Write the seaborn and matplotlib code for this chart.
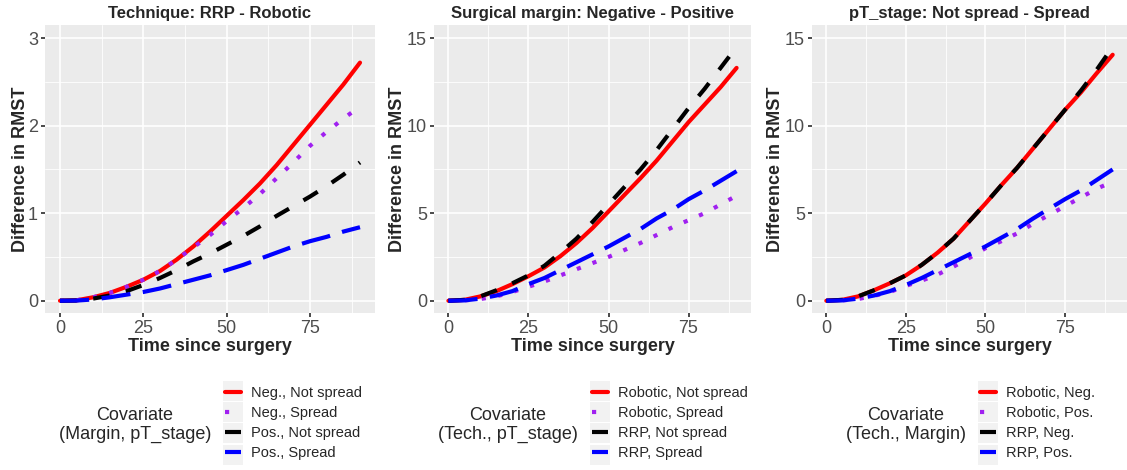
import matplotlib
matplotlib.use("Agg")
import matplotlib.pyplot as plt
import seaborn as sns
import pandas as pd
from matplotlib.patches import Rectangle
from matplotlib.ticker import MultipleLocator

# ---------------------------------------------------------------- #
# Data (difference in RMST vs time)
# ---------------------------------------------------------------- #
time = [0, 5, 10, 15, 20, 25, 30, 35, 40, 45, 50, 55, 60, 65, 70, 75, 80, 85, 90]

# Panel 1: Technique RRP - Robotic, by (Margin, pT_stage)
tech_labels = ["Neg., Not spread", "Neg., Spread", "Pos., Not spread", "Pos., Spread"]
tech_neg_notspread = [0, 0.005, 0.04, 0.09, 0.16, 0.24, 0.34, 0.47, 0.62, 0.79, 0.97,
                      1.15, 1.34, 1.55, 1.78, 2.01, 2.24, 2.47, 2.72]
tech_neg_spread = [0, 0.005, 0.04, 0.09, 0.16, 0.24, 0.34, 0.47, 0.61, 0.75, 0.91,
                   1.06, 1.22, 1.40, 1.58, 1.77, 1.93, 2.08, 2.22]
tech_pos_notspread = [0, 0.003, 0.025, 0.06, 0.11, 0.18, 0.26, 0.35, 0.45, 0.54, 0.64,
                      0.74, 0.85, 0.97, 1.08, 1.19, 1.31, 1.44, 1.58]
tech_pos_spread = [0, 0.002, 0.015, 0.04, 0.07, 0.10, 0.14, 0.19, 0.24, 0.29, 0.35,
                   0.41, 0.48, 0.55, 0.62, 0.68, 0.73, 0.79, 0.84]

# Panel 2: Surgical margin Negative - Positive, by (Tech., pT_stage)
marg_labels = ["Robotic, Not spread", "Robotic, Spread", "RRP, Not spread", "RRP, Spread"]
marg_rob_notspread = [0, 0.05, 0.25, 0.55, 0.95, 1.4, 1.9, 2.55, 3.3, 4.15, 5.1,
                      6.05, 7.0, 8.0, 9.1, 10.2, 11.2, 12.2, 13.3]
marg_rob_spread = [0, 0.02, 0.1, 0.25, 0.5, 0.8, 1.1, 1.45, 1.8, 2.15, 2.5,
                   2.9, 3.3, 3.75, 4.2, 4.6, 5.0, 5.5, 6.0]
marg_rrp_notspread = [0, 0.05, 0.25, 0.6, 1.0, 1.45, 2.0, 2.75, 3.55, 4.5, 5.5,
                      6.5, 7.5, 8.6, 9.8, 11.0, 12.1, 13.3, 14.5]
marg_rrp_spread = [0, 0.02, 0.12, 0.3, 0.55, 0.95, 1.3, 1.75, 2.2, 2.65, 3.1,
                   3.6, 4.1, 4.7, 5.2, 5.8, 6.3, 6.85, 7.4]

# Panel 3: pT_stage Not spread - Spread, by (Tech., Margin)
stage_labels = ["Robotic, Neg.", "Robotic, Pos.", "RRP, Neg.", "RRP, Pos."]
stage_rob_neg = [0, 0.05, 0.25, 0.6, 1.0, 1.45, 2.05, 2.75, 3.55, 4.55, 5.55,
                 6.6, 7.6, 8.7, 9.8, 10.9, 11.9, 13.0, 14.05]
stage_rob_pos = [0, 0.02, 0.1, 0.28, 0.5, 0.85, 1.15, 1.5, 1.95, 2.45, 3.0,
                 3.4, 3.85, 4.4, 4.9, 5.4, 5.9, 6.4, 6.8]
stage_rrp_neg = [0, 0.05, 0.25, 0.6, 1.0, 1.45, 2.05, 2.75, 3.55, 4.55, 5.55,
                 6.6, 7.6, 8.7, 9.8, 10.9, 12.0, 13.2, 14.5]
stage_rrp_pos = [0, 0.02, 0.12, 0.3, 0.55, 0.9, 1.3, 1.75, 2.2, 2.65, 3.1,
                 3.6, 4.1, 4.7, 5.25, 5.8, 6.3, 6.9, 7.5]

titles = ["Technique: RRP - Robotic",
          "Surgical margin: Negative - Positive",
          "pT_stage: Not spread - Spread"]
legend_titles = ["Covariate\n(Margin, pT_stage)",
                 "Covariate\n(Tech., pT_stage)",
                 "Covariate\n(Tech., Margin)"]

colors = ["#FF0000", "#A020F0", "#000000", "#0000FF"]
dash_styles = ["", (1, 3), (4, 4), (7, 3)]

W, H = 1127, 470


def fx(px):
    return px / W


def fy(py):
    return 1 - py / H


sns.set_theme(style="darkgrid", rc={
    "axes.facecolor": "#EBEBEB",
    "grid.color": "white",
    "axes.edgecolor": "#EBEBEB",
    "xtick.bottom": True, "ytick.left": True,
    "xtick.color": "#333333", "ytick.color": "#333333",
    "xtick.labelcolor": "#4D4D4D", "ytick.labelcolor": "#4D4D4D",
    "xtick.major.size": 3, "ytick.major.size": 3,
    "xtick.major.pad": 2, "ytick.major.pad": 2,
})
plt.rcParams["font.family"] = ["Liberation Sans", "DejaVu Sans"]

fig = plt.figure(figsize=(W / 100, H / 100), dpi=100)

panels = [
    (tech_labels, [tech_neg_notspread, tech_neg_spread, tech_pos_notspread, tech_pos_spread]),
    (marg_labels, [marg_rob_notspread, marg_rob_spread, marg_rrp_notspread, marg_rrp_spread]),
    (stage_labels, [stage_rob_neg, stage_rob_pos, stage_rrp_neg, stage_rrp_pos]),
]
ax_x = [(45, 375), (434, 751), (812, 1127)]
ylims = [(-0.14, 3.15), (-0.7, 15.75), (-0.7, 15.75)]
ymaj = [1, 5, 5]
ylabpad = [-0.5, 1, 1]
# legend layout: (title center x, key left x)
leg_pos = [(135, 223), (508, 590), (906, 978)]
row_y = [391, 412, 433, 455]

for i, (labels, series) in enumerate(panels):
    l, r = ax_x[i]
    ax = fig.add_axes([fx(l), fy(313), fx(r) - fx(l), fy(25) - fy(313)])
    df = pd.concat([pd.DataFrame({"time": time, "diff": s, "group": lab})
                    for lab, s in zip(labels, series)], ignore_index=True)
    sns.lineplot(data=df, x="time", y="diff", hue="group", style="group",
                 hue_order=labels, style_order=labels,
                 palette=dict(zip(labels, colors)),
                 dashes=dict(zip(labels, dash_styles)),
                 linewidth=3.0, ax=ax)
    handles, hlabels = ax.get_legend_handles_labels()
    ax.get_legend().remove()

    ax.set_xlim(-4.5, 94.5)
    ax.set_ylim(*ylims[i])
    ax.xaxis.set_major_locator(MultipleLocator(25))
    ax.xaxis.set_minor_locator(MultipleLocator(12.5))
    ax.yaxis.set_major_locator(MultipleLocator(ymaj[i]))
    ax.yaxis.set_minor_locator(MultipleLocator(ymaj[i] / 2))
    ax.grid(which="major", color="white", linewidth=1.2)
    ax.grid(which="minor", color="white", linewidth=0.6)
    ax.tick_params(which="minor", length=0)
    ax.tick_params(labelsize=13)
    for sp in ax.spines.values():
        sp.set_visible(False)
    ax.set_title(titles[i], fontsize=12, fontweight="bold", pad=5)
    ax.set_xlabel("Time since surgery", fontsize=13, fontweight="bold", labelpad=1)
    ax.set_ylabel("Difference in RMST", fontsize=13, fontweight="bold",
                  labelpad=ylabpad[i])

    # legend below each panel, title to the left (ggplot style)
    tx, kx = leg_pos[i]
    for yy in row_y:
        fig.patches.append(Rectangle((fx(kx), fy(yy + 10)), fx(20), 20 / H,
                                     transform=fig.transFigure,
                                     facecolor="#F2F2F2", edgecolor="none", zorder=0))
    fig.legend(handles, hlabels, loc="center left",
               bbox_to_anchor=(fx(kx + 2), fy(423)), frameon=False,
               fontsize=10.5, handlelength=1.1, handletextpad=0.7,
               labelspacing=0.42, borderpad=0, borderaxespad=0)
    fig.text(fx(tx), fy(425), legend_titles[i], ha="center", va="center",
             multialignment="center", fontsize=13, linespacing=1.1)

fig.savefig("out.png", dpi=100)
